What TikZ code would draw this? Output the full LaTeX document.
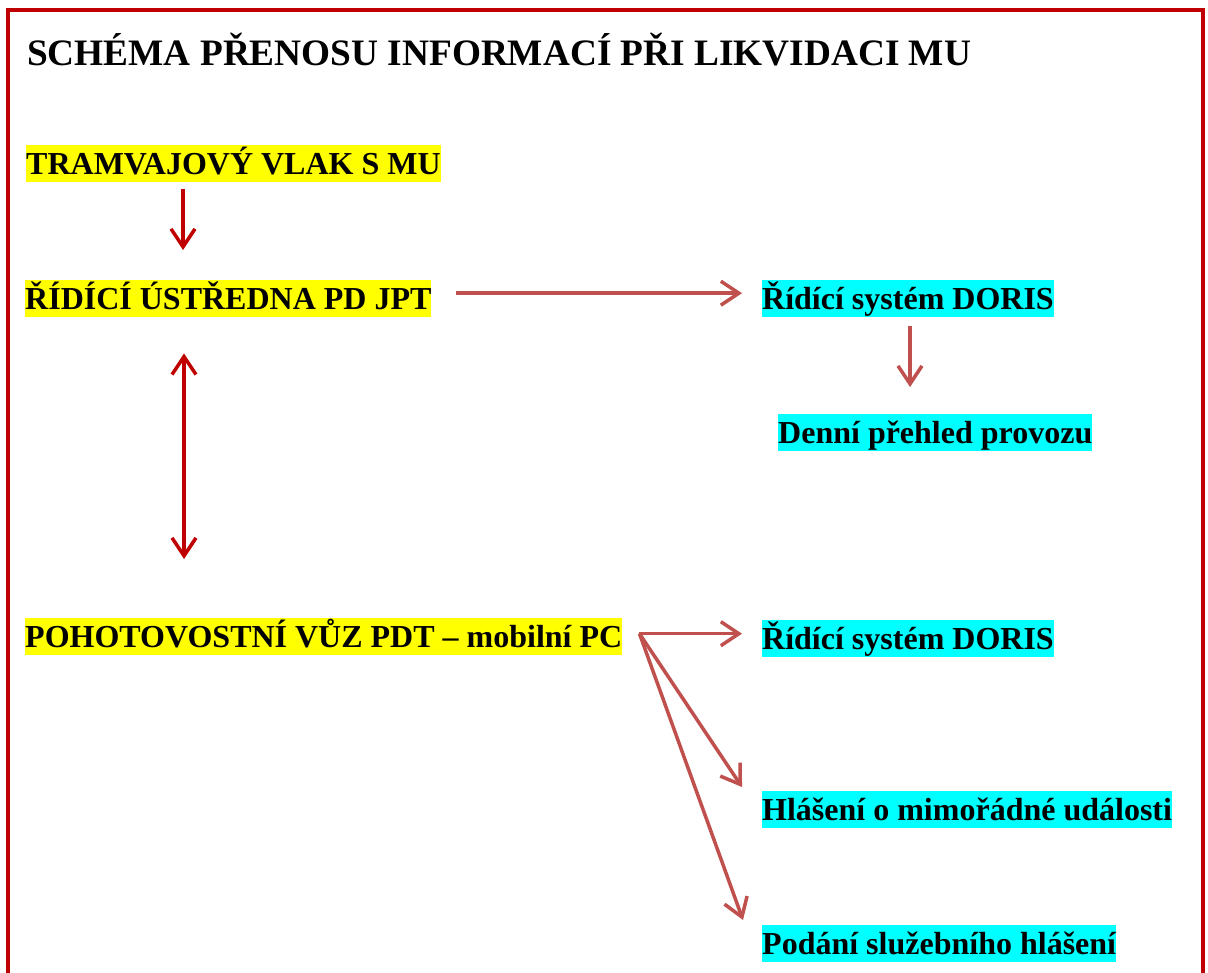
\documentclass[tikz,border=0pt]{standalone}
\usepackage{fontspec}
\setmainfont{Liberation Serif}
\usetikzlibrary{arrows.meta}
\definecolor{frame}{HTML}{C00000}
\definecolor{arrlight}{HTML}{C0504D}
\definecolor{hlyellow}{HTML}{FFFF00}
\definecolor{hlcyan}{HTML}{00FFFF}
\tikzset{
  lbl/.style={anchor=north west, inner xsep=0pt, inner ysep=0pt, text height=29pt, text depth=8pt,
    font=\fontsize{32}{38}\selectfont\bfseries},
  ylw/.style={lbl, fill=hlyellow},
  cyn/.style={lbl, fill=hlcyan},
  tip/.tip={Straight Barb[length=18pt,width=24pt]},
  darr/.style={draw=frame, line width=3.5pt, -tip},
  larr/.style={draw=arrlight, line width=3.5pt, -tip},
  dbl/.style={draw=frame, line width=3.5pt, tip-tip},
  bord/.style={draw=frame, line width=4pt},
}
\begin{document}
\begin{tikzpicture}[x=1pt,y=-1pt]
\useasboundingbox (0,0) rectangle (1208,973);
\clip (0,0) rectangle (1208,973);
\fill[white] (0,0) rectangle (1208,973);
\draw[bord] (8,10) rectangle (1203,1020);

\node[anchor=base west, inner sep=0pt, font=\fontsize{37.3}{44}\selectfont\bfseries] (title) at (27,66)
  {SCHÉMA PŘENOSU INFORMACÍ PŘI LIKVIDACI MU};

\node[ylw] (tram) at (26,145) {TRAMVAJOVÝ VLAK S MU};
\node[ylw] (rid) at (25,280) {ŘÍDÍCÍ ÚSTŘEDNA PD JPT};
\node[cyn] (doris1) at (762,280) {Řídící systém DORIS};
\node[cyn] (denni) at (778,414) {Denní přehled provozu};
\node[ylw] (poh) at (25,618) {POHOTOVOSTNÍ VŮZ PDT – mobilní PC};
\node[cyn] (doris2) at (762,620) {Řídící systém DORIS};
\node[cyn] (hlas) at (762,791) {Hlášení o mimořádné události};
\node[cyn] (podani) at (762,925) {Podání služebního hlášení};

\draw[darr] ([xshift=157pt,yshift=-7pt]tram.south west) -- ([xshift=158pt,yshift=30pt]rid.north west);
\draw[larr] ([xshift=24pt,yshift=5.5pt]rid.east) -- ([xshift=-20pt,yshift=5.5pt]doris1.west);
\draw[larr] ([xshift=148pt,yshift=-9pt]doris1.south west) -- ([xshift=132pt,yshift=27pt]denni.north west);
\draw[dbl] ([xshift=159pt,yshift=-36pt]rid.south west) -- ([xshift=159pt,yshift=59pt]poh.north west);

\coordinate (o) at ([xshift=17pt,yshift=3pt]poh.east);
\draw[larr] (o) -- ([xshift=-20pt]doris2.west |- o);
\draw[larr] (o) -- ([xshift=-20pt,yshift=4pt]hlas.north west);
\draw[larr] (o) -- ([xshift=-19pt,yshift=5pt]podani.north west);
\end{tikzpicture}
\end{document}
